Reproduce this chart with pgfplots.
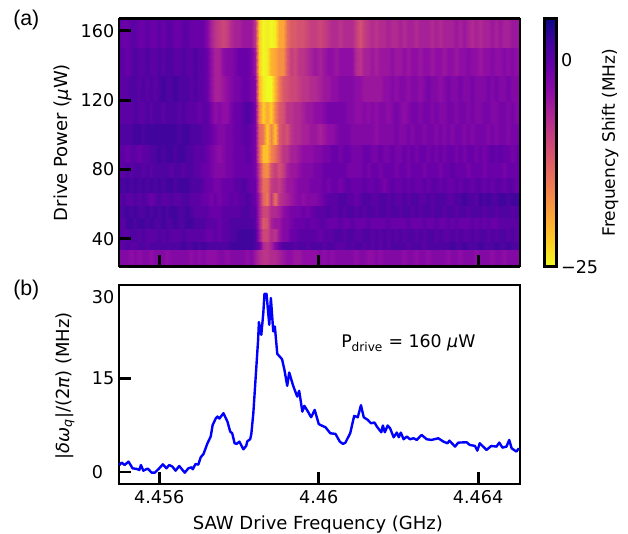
\documentclass[border=0pt]{standalone}
\usepackage{fontspec}
\setmainfont{DejaVu Sans}
\newfontfamily\panelfont{Liberation Sans}
\usepackage{pgfplots}
\pgfplotsset{compat=1.18}
\pgfplotsset{
  colormap={plasmarev}{rgb255=(240,249,33) rgb255=(252,206,37) rgb255=(252,166,54) rgb255=(242,132,75) rgb255=(225,100,98) rgb255=(204,71,120) rgb255=(177,42,144) rgb255=(143,13,164) rgb255=(106,0,168) rgb255=(65,4,157) rgb255=(13,8,135)},
  heatcell/.style={surf,shader=interp,mesh/rows=2,point meta=z},
  thickframe/.style={
    axis line style={line width=2.2pt,black},
    tick style={line width=2.2pt,black},
    major tick length=9pt,
    tick align=inside,
    xtick pos=bottom,ytick pos=left,
    tick label style={font=\fontsize{13.2}{15}\selectfont},
    xticklabel style={yshift=-1pt},
    label style={font=\fontsize{13.5}{15}\selectfont},
    scale only axis,
  },
}
% one row of the map: lower edge, upper edge, values in MHz
\newcommand\heatrow[3]{%
  \gdef\Ha{}\gdef\Hb{}%
  \foreach \v [count=\j from 0] in {#3}{%
    \pgfmathsetmacro\xx{4454.99+\j*0.1006}%
    \xdef\Ha{\Ha(\xx,#1,\v)}\xdef\Hb{\Hb(\xx,#2,\v)}\xdef\lastv{\v}}%
  \edef\tmp{\noexpand\addplot3[heatcell] coordinates {\Ha(4465.05,#1,\lastv)\Hb(4465.05,#2,\lastv)};}\tmp}
\begin{document}
\begin{tikzpicture}
\path[use as bounding box] (0,0) rectangle (471pt,399.75pt);
\begin{axis}[thickframe,
  at={(89.25pt,199.725pt)},anchor=south west,width=300.75pt,height=186.15pt,
  view={0}{90},axis on top,
  xmin=4454.99,xmax=4465.05,ymin=23.85,ymax=167.04,
  xtick={4456,4460,4464},xticklabels={},
  ytick={40,80,120,160},yticklabels={40,80,120,160},
  ylabel={Drive Power ({\itshape μ}W)},
  ylabel style={at={(axis description cs:-0.14,0.5)},anchor=center},
  point meta min=-25,point meta max=5,
  colormap name=plasmarev,
  colorbar,
  colorbar style={
    at={(parent axis.north east)},anchor=north west,xshift=10.1pt,
    width=8.6pt,scale only axis,
    axis line style={line width=2.2pt,black},
    ytick={-25,0},yticklabels={−25,0},
    major tick length=0pt,
    yticklabel style={font=\fontsize{13.2}{15}\selectfont},
    ylabel={Frequency Shift (MHz)},
    ylabel style={font=\fontsize{12.8}{15}\selectfont,at={(axis description cs:5.69,0.5)},anchor=center},
  },
]
\heatrow{23.85}{33.5}{-3,-3,-3,-4,-3,-4,-3,-3,-4,-3, -3,-3,-4,-3,-3,-3,-3,-3,-4,-3, -4,-3,-4,-4,-4,-3,-3,-4,-3,-3, -3,-3,-4,-3,-5,-7,-8,-8,-7,-7, -6,-5,-4,-4,-5,-5,-4,-4,-4,-4, -3,-4,-3,-4,-3,-3,-3,-3,-3,-4, -3,-3,-4,-4,-3,-4,-3,-3,-3,-3, -3,-4,-3,-3,-4,-3,-3,-4,-3,-3, -3,-3,-4,-3,-3,-4,-3,-3,-3,-4, -3,-3,-3,-4,-3,-3,-4,-3,-3,-3}
\heatrow{33.5}{38.3}{0,0,1,0,0,1,1,0,1,1, 1,1,1,1,1,1,2,1,1,2, 1,2,1,1,1,1,1,1,2,2, 2,2,2,2,1,-1,-7,-8,-6,-3, -1,1,1,1,0,1,1,0,1,1, 1,0,1,1,0,0,0,1,0,1, 1,0,1,0,1,0,1,0,1,1, 1,1,0,1,1,1,0,1,1,1, 1,1,1,2,1,1,2,1,1,1, 2,1,1,1,2,1,1,2,1,1}
\heatrow{38.3}{46}{1,0,0,1,1,0,1,0,0,0, 1,0,1,0,0,0,1,0,0,0, 0,0,-1,-1,0,-1,0,0,1,1, 2,2,2,2,1,-5,-10,-10,-7,-8, -5,-3,-3,-1,-1,0,0,0,0,0, -1,0,0,0,1,1,0,1,1,0, 0,1,1,0,1,0,1,0,1,0, 1,0,1,1,0,1,0,1,1,0, 1,0,0,1,0,1,0,0,1,0, 1,1,0,1,0,1,1,0,1,0}
\heatrow{46}{52.3}{1,0,2,2,1,2,2,1,2,1, 1,2,1,1,2,1,1,2,2,1, 1,1,0,0,0,-1,0,0,1,1, 1,1,1,1,0,-6,-12,-11,-6,-5, -5,-3,-3,-2,-1,-1,-1,0,-1,-1, 0,0,-1,-1,-1,0,-1,-1,0,-1, -1,-1,0,-1,-1,-1,-1,0,-1,-1, -1,-1,0,-1,-1,-1,0,-1,-1,0, -1,-1,0,-1,0,-1,-1,-1,0,-1, 0,-1,0,-1,-1,0,0,0,0,0}
\heatrow{52.3}{59.4}{1,1,2,1,2,1,1,2,1,2, 1,2,1,2,2,1,1,2,1,0, 0,0,0,-1,-1,-1,0,0,0,0, 0,1,1,0,0,-6,-10,-10,-7,-7, -6,-4,-3,-2,-2,-2,-1,-2,-1,0, 0,0,1,0,0,1,0,1,1,0, 1,0,1,1,0,1,1,0,1,1, 0,1,1,0,1,0,1,1,0,1, 1,0,1,1,0,1,1,0,1,1, 1,0,1,1,0,1,1,1,0,1}
\heatrow{59.4}{66.5}{0,1,0,0,1,0,1,0,-1,0, 1,0,0,1,0,0,1,1,0,0, 0,-1,-1,-2,-1,-2,-1,-1,0,-1, 0,0,1,0,-1,-6,-13,-15,-8,-14, -8,-7,-6,-5,-4,-3,-4,-3,-3,-3, -2,-1,0,0,0,1,1,0,0,-1, 0,1,1,0,0,1,1,0,1,0, 0,1,0,1,1,0,0,1,0,1, 1,1,0,0,1,1,2,1,1,0, 2,1,2,1,1,2,2,1,2,2}
\heatrow{66.5}{75.2}{2,1,2,1,2,1,2,1,2,1, 2,1,2,2,1,2,2,2,1,1, 1,0,-1,-1,-2,-2,-1,-1,-1,0, 0,1,0,-1,-1,-8,-14,-14,-9,-8, -9,-7,-5,-5,-4,-3,-3,-3,-2,-2, -2,-1,-2,-1,-1,-2,-1,0,-1,-1, -1,0,-1,-1,0,-1,-2,-1,0,-1, -1,0,-1,0,-1,-1,0,-1,0,0, -1,0,-1,-1,0,-1,0,0,-1,0, 0,-1,0,-1,0,0,-1,0,0,-1}
\heatrow{75.2}{84.1}{0,0,1,0,1,1,0,1,0,1, 1,1,1,0,1,1,0,1,1,0, 0,-1,-1,-2,-3,-3,-3,-2,-2,-1, -1,-1,-1,-1,-2,-9,-16,-17,-11,-9, -11,-9,-6,-5,-5,-4,-3,-3,-3,-2, -2,-1,-1,-1,-1,-1,-1,-2,-2,-2, -2,-1,-2,-1,-1,-2,-1,-1,-1,-2, -1,-1,-2,-1,-1,-1,-2,-1,-1,-1, -2,-1,-1,0,-1,-1,-1,-2,-1,-1, -1,-2,-1,-1,-1,-1,-2,-1,-1,-1}
\heatrow{84.1}{94.6}{0,0,-1,0,0,-1,0,0,1,1, 2,1,2,2,1,2,2,1,1,0, 0,0,-1,-2,-3,-4,-3,-2,-2,-1, -1,-1,0,-1,-2,-13,-21,-21,-16,-14, -11,-8,-8,-6,-6,-5,-4,-4,-4,-3, -3,-2,-2,-1,-1,-2,-1,-1,-2,-2, -2,-1,-1,-2,-2,-1,-2,-2,-1,-2, -2,-1,-2,-1,-2,-1,-1,-2,-1,-2, -1,-2,-1,-1,-2,-1,-2,-1,-1,-2, -1,-2,-1,0,-1,0,-1,-1,-2,-1}
\heatrow{94.6}{106.2}{1,1,1,1,2,2,1,2,2,2, 2,2,2,2,2,1,2,2,1,1, 1,0,0,-1,-2,-3,-3,-2,-2,-1, -1,0,0,-1,-2,-13,-15,-22,-16,-21, -12,-10,-11,-8,-7,-7,-6,-6,-5,-5, -6,-5,-4,-4,-3,-2,-2,-2,-3,-3, -3,-3,-3,-3,-4,-3,-3,-3,-3,-2, -3,-3,-2,-3,-2,-2,-3,-2,-2,-3, -2,-3,-2,-3,-2,-2,-3,-2,-3,-2, -2,-2,-3,-2,-3,-2,-2,-3,-2,-2}
\heatrow{106.2}{119}{0,0,0,0,1,0,0,1,0,1, 1,0,1,1,1,0,1,0,0,0, -1,0,0,-2,-4,-3,-4,-4,-2,-1, -1,0,1,0,-2,-16,-22,-19,-22,-16, -12,-11,-8,-8,-7,-7,-6,-5,-5,-4, -4,-3,-2,-2,-2,-2,-2,-3,-3,-4, -4,-3,-4,-3,-4,-3,-3,-4,-3,-2, -3,-4,-3,-2,-2,-3,-2,-2,-3,-2, -3,-3,-2,-2,-3,-2,-2,-3,-2,-3, -3,-2,-2,-3,-3,-2,-2,-3,-2,-3}
\heatrow{119}{133.9}{0,0,0,1,1,0,1,0,1,0, 1,2,1,1,2,1,1,1,0,1, 0,0,-1,-4,-6,-6,-5,-4,-3,-2, -2,-1,-1,-2,-3,-20,-24,-25,-25,-20, -15,-12,-11,-10,-10,-9,-8,-8,-7,-7, -6,-5,-5,-4,-4,-3,-3,-3,-3,-4, -4,-5,-5,-5,-5,-5,-4,-4,-3,-4, -3,-3,-4,-3,-3,-4,-3,-2,-3,-3, -4,-3,-2,-3,-3,-2,-3,-3,-2,-3, -3,-3,-2,-3,-2,-3,-3,-2,-3,-3}
\heatrow{133.9}{150.2}{0,0,-1,0,1,0,0,1,0,0, 1,0,1,1,0,0,1,0,0,1, 0,0,-1,-4,-6,-6,-4,-3,-3,-2, -1,-1,-1,-2,-5,-22,-25,-24,-20,-19, -17,-17,-12,-9,-10,-8,-8,-7,-6,-5, -6,-5,-4,-4,-5,-4,-4,-4,-4,-7, -8,-6,-6,-5,-6,-5,-5,-5,-4,-5, -5,-4,-5,-4,-4,-5,-4,-4,-5,-4, -4,-5,-4,-4,-5,-4,-4,-3,-4,-4, -5,-4,-4,-3,-4,-4,-3,-4,-3,-4}
\heatrow{150.2}{167.04}{0,-1,-1,0,0,-1,-1,0,-1,-1, 0,-1,0,0,-1,-1,0,0,-1,-1, -1,-1,-3,-6,-8,-9,-10,-9,-7,-6, -6,-5,-5,-5,-8,-22,-25,-24,-25,-24, -19,-19,-14,-12,-12,-11,-11,-10,-9,-9, -10,-9,-8,-7,-7,-8,-7,-7,-7,-9, -11,-9,-8,-7,-8,-7,-7,-6,-7,-7, -6,-7,-6,-6,-7,-6,-6,-6,-7,-6, -7,-6,-6,-6,-5,-6,-5,-6,-7,-6, -7,-6,-6,-5,-6,-5,-6,-6,-5,-5}
\end{axis}
\begin{axis}[thickframe,
  at={(89.25pt,36.75pt)},anchor=south west,width=300.75pt,height=149.25pt,
  xmin=4.45499,xmax=4.46505,ymin=-1.93,ymax=30,
  xtick={4.456,4.46,4.464},xticklabels={4.456,4.46,4.464},
  ytick={0,15},yticklabels={0\phantom{0},15},
  extra y ticks={30},extra y tick labels={30},
  extra y tick style={yticklabel style={yshift=-8.7pt}},
  xlabel={SAW Drive Frequency (GHz)},
  xlabel style={at={(axis description cs:0.496,-0.206)},anchor=center},
  ylabel={|{\itshape δω}\textsubscript{\itshape q}|/(2{\itshape π}) (MHz)},
  ylabel style={at={(axis description cs:-0.135,0.493)},anchor=center},
]
\addplot[line width=1.8pt,color=blue,line join=round] coordinates {
(4.4550,1.12)(4.45506,1.50)(4.45513,1.12)(4.45523,1.66)(4.45533,0.59)(4.45544,0.48)(4.4555,0.32)(4.45554,1.12)(4.4556,0.21)(4.45571,0.54)
(4.45581,-0.11)(4.45589,-0.11)(4.456,0.59)(4.45609,1.23)(4.45618,0.59)(4.45625,1.12)(4.45633,0.86)(4.45641,0.21)(4.4565,0.96)(4.45664,-0.11)
(4.45673,0.59)(4.45681,0.75)(4.45684,0.43)(4.45691,1.29)(4.45698,1.18)(4.45704,2.36)(4.45711,2.89)(4.45721,4.61)(4.45729,5.68)(4.45734,7.55)
(4.45742,8.62)(4.45746,8.89)(4.45751,8.57)(4.45761,9.43)(4.45771,8.09)(4.45778,6.48)(4.45783,6.21)(4.45789,4.61)(4.45794,4.50)(4.45801,4.87)
(4.45811,3.64)(4.45818,4.18)(4.45821,4.93)(4.45828,5.25)(4.45831,6.11)(4.45836,9.43)(4.45842,15.32)(4.45848,21.21)(4.4585,24.05)(4.45856,22.01)
(4.45861,25.50)(4.45864,28.60)(4.45869,28.60)(4.45876,23.62)(4.4588,27.91)(4.45886,22.55)(4.4589,23.35)(4.45896,18.96)(4.45908,18.10)(4.45914,16.39)
(4.45921,13.82)(4.45926,15.96)(4.45936,13.82)(4.45946,12.10)(4.45951,13.02)(4.45959,9.69)(4.45964,10.61)(4.45973,9.69)(4.45981,8.78)(4.4599,9.96)
(4.46,7.71)(4.46004,7.55)(4.46017,7.18)(4.46029,6.21)(4.46042,6.11)(4.46053,4.87)(4.46061,4.50)(4.46067,4.71)(4.46079,6.21)(4.46089,9.0)
(4.46098,8.78)(4.46106,10.71)(4.46113,8.78)(4.46123,8.36)(4.46131,7.82)(4.4614,7.93)(4.46146,7.28)(4.46157,6.37)(4.46161,7.45)(4.46166,6.37)
(4.46173,7.45)(4.46179,7.02)(4.46188,5.57)(4.46196,6.32)(4.46201,5.57)(4.46206,6.32)(4.46213,5.25)(4.46221,5.68)(4.46229,5.25)(4.46238,5.41)
(4.46246,5.14)(4.46258,5.95)(4.46271,5.25)(4.46283,5.14)(4.463,5.41)(4.46313,4.87)(4.46323,4.61)(4.46328,5.03)(4.46342,4.07)(4.4635,4.71)
(4.46371,4.77)(4.46379,4.34)(4.46392,4.18)(4.46398,3.43)(4.46404,4.61)(4.46421,3.54)(4.46433,4.18)(4.46446,4.07)(4.46453,4.71)(4.46461,3.91)
(4.46471,4.07)(4.46478,5.14)(4.46484,3.80)(4.46496,3.27)(4.46502,3.80)
};
\node[anchor=west,inner sep=0pt,font=\fontsize{13}{15}\selectfont] at (rel axis cs:0.5536,0.7085) {P\textsubscript{drive} = 160 {\itshape μ}W};
\end{axis}
\node[anchor=west,inner sep=0pt,font=\panelfont\fontsize{16}{18}\selectfont] at (9.75pt,384.75pt) {(a)};
\node[anchor=west,inner sep=0pt,font=\panelfont\fontsize{16}{18}\selectfont] at (9.75pt,182.25pt) {(b)};
\end{tikzpicture}
\end{document}
